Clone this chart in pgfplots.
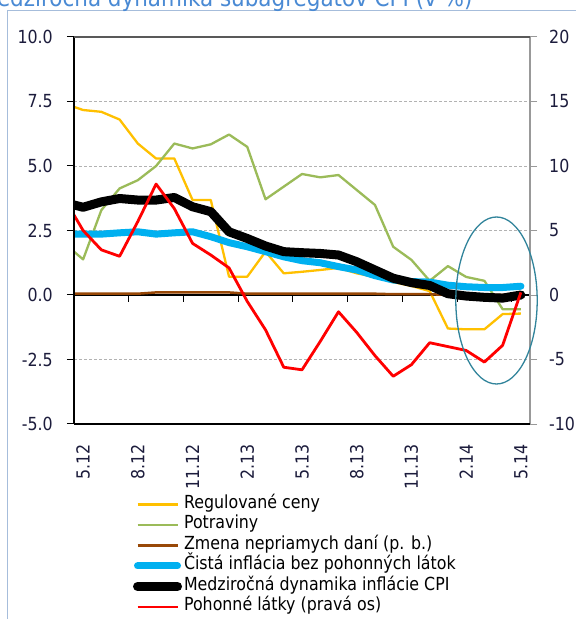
\documentclass[border=0pt]{standalone}
\usepackage{fontspec}
\setmainfont{DejaVu Sans}[FakeStretch=0.88]
\usepackage{pgfplots}
\usepackage{pgfplotstable}
\pgfplotsset{compat=1.18}
\definecolor{yel}{HTML}{FFC000}
\definecolor{grn}{HTML}{9BBB59}
\definecolor{brn}{HTML}{984807}
\definecolor{blu}{HTML}{00B0F0}
\definecolor{frm}{HTML}{A6BDDB}
\definecolor{ttl}{HTML}{4A8AD4}
\definecolor{ell}{HTML}{31849B}
\definecolor{lbl}{HTML}{1C1C3C}
\pgfplotstableread{
x reg potr dan cista cpi phm
-1 7.41 1.98 0.05 2.36 3.58 7.4
0 7.17 1.38 0.05 2.36 3.40 5.0
1 7.10 3.29 0.05 2.36 3.61 3.5
2 6.80 4.13 0.05 2.41 3.74 3.0
3 5.87 4.45 0.05 2.45 3.68 5.7
4 5.29 5.00 0.10 2.36 3.68 8.6
5 5.29 5.87 0.10 2.41 3.78 6.7
6 3.68 5.68 0.10 2.45 3.42 4.0
7 3.68 5.84 0.10 2.26 3.23 3.1
8 0.71 6.22 0.10 2.03 2.45 2.1
9 0.71 5.74 0.05 1.87 2.19 -0.5
10 1.68 3.71 0.05 1.68 1.90 -2.7
11 0.84 4.20 0.05 1.48 1.68 -5.6
12 0.90 4.69 0.05 1.33 1.64 -5.8
13 0.97 4.56 0.05 1.25 1.61 -3.6
14 1.05 4.65 0.05 1.10 1.55 -1.3
15 0.84 4.07 0.05 0.97 1.29 -2.9
16 0.70 3.49 0.05 0.75 0.97 -4.7
17 0.50 1.87 0.03 0.58 0.65 -6.3
18 0.35 1.36 0.03 0.52 0.48 -5.4
19 0.15 0.55 0.03 0.50 0.37 -3.7
20 -1.30 1.12 0.00 0.38 0.05 -4.0
21 -1.33 0.70 0.00 0.32 -0.04 -4.3
22 -1.33 0.55 0.00 0.29 -0.09 -5.2
23 -0.74 -0.55 0.00 0.29 -0.12 -3.9
24 -0.72 -0.55 0.00 0.34 0.00 0.2
}\data
\pgfplotsset{
  every tick label/.append style={font=\fontsize{18}{20}\selectfont, text=lbl},
  /pgf/number format/assume math mode=true,
}
\begin{document}
\begin{tikzpicture}[x=1pt,y=1pt]
\useasboundingbox (0,0) rectangle (576,619);
\fill[white] (0,0) rectangle (576,619);
\draw[frm, line width=1pt] (7.5,-5) -- (7.5,608.5) -- (590,608.5);
\node[anchor=base west, text=ttl, font=\fontsize{24.4}{28}\selectfont, inner sep=0pt] at (-21.7,612.5) {Medziročná dynamika subagregátov CPI (v \%)};

\begin{axis}[
  name=L, at={(74pt,195pt)}, anchor=south west, scale only axis,
  width=456pt, height=387pt,
  xmin=-0.5, xmax=24.5, ymin=-5, ymax=10,
  axis line style={draw=none},
  xtick={0,3,...,24},
  xticklabels={5.12,8.12,11.12,2.13,5.13,8.13,11.13,2.14,5.14},
  xtick pos=bottom, x tick style={draw=none},
  xticklabel style={rotate=90, anchor=east, inner sep=0pt},
  xticklabel shift=13pt,
  ytick={-5,-2.5,0,2.5,5,7.5,10},
  ytick pos=left, tick align=outside,
  y tick style={black, line width=1pt}, major tick length=7pt,
  yticklabel style={inner sep=0pt, /pgf/number format/.cd, fixed, fixed zerofill, precision=1},
  yticklabel shift=14pt,
  ymajorgrids, grid style={dash pattern=on 3pt off 2pt, color=black!30, line width=0.7pt},
]
\draw[black, line width=1.6pt] (axis cs:-0.5,0) -- (axis cs:24.5,0);
\pgfplotsinvokeforeach{2.5,5.5,8.5,11.5,14.5,17.5,20.5,23.5}{
  \draw[black, line width=1pt] (axis cs:#1,0) -- ++(0pt,-7pt);
}
\addplot[yel, line width=2.3pt, line join=round] table[x=x,y=reg]{\data};
\addplot[grn, line width=2.3pt, line join=round] table[x=x,y=potr]{\data};
\addplot[brn, line width=2.5pt, line join=round] table[x=x,y=dan]{\data};
\addplot[blu, line width=7pt, line join=round, line cap=round] table[x=x,y=cista]{\data};
\addplot[black, line width=9pt, line join=round, line cap=round] table[x=x,y=cpi]{\data};
\end{axis}

\begin{axis}[
  at={(74pt,195pt)}, anchor=south west, scale only axis,
  width=456pt, height=387pt,
  xmin=-0.5, xmax=24.5, ymin=-10, ymax=20,
  axis x line=none, axis y line*=right,
  axis line style={-, draw=black!40, line width=1.2pt},
  ytick={-10,-5,0,5,10,15,20},
  tick align=outside, y tick style={black!40, line width=1pt}, major tick length=7pt,
  yticklabel style={inner sep=0pt},
  yticklabel shift=12pt,
  legend cell align=left,
  legend image code/.code={\draw[#1] (0pt,0pt) -- (40pt,0pt);},
  legend style={at={(0.129,-0.181)}, anchor=north west, draw=none, fill=none,
    inner sep=0pt, font=\fontsize{18}{20}\selectfont,
    nodes={inner sep=0pt, text height=14pt, text depth=6.5pt},
    /tikz/every odd column/.append style={column sep=2pt}},
]
\addlegendimage{yel, line width=2.3pt}
\addlegendentry{Regulované ceny}
\addlegendimage{grn, line width=2.3pt}
\addlegendentry{Potraviny}
\addlegendimage{brn, line width=2.5pt}
\addlegendentry{Zmena nepriamych daní (p. b.)}
\addlegendimage{blu, line width=7pt, line cap=round}
\addlegendentry{Čistá inflácia bez pohonných látok}
\addlegendimage{black, line width=9pt, line cap=round}
\addlegendentry{Medziročná dynamika inflácie CPI}
\addplot[red, line width=2.8pt, line join=round] table[x=x,y=phm]{\data};
\addlegendentry{Pohonné látky (pravá os)}
\end{axis}

\draw[black, line width=1.6pt] (L.south west) -- (L.north west);
\draw[black, line width=1.6pt] (L.south west) -- (L.south east);
\draw[black!65, line width=1.8pt] (L.north west) -- (L.north east);
\draw[ell, line width=1.3pt] (496.5,318.5) ellipse [x radius=40.7, y radius=83.5];
\end{tikzpicture}
\end{document}
